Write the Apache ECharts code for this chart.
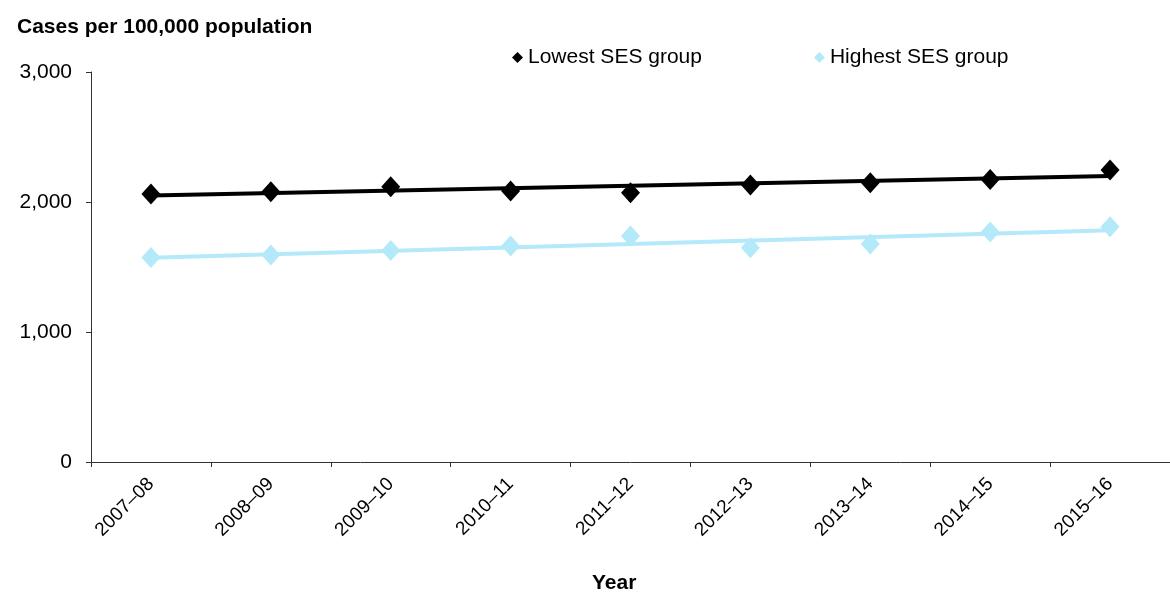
<!DOCTYPE html>
<html>
<head>
<meta charset="utf-8">
<script src="https://cdn.jsdelivr.net/npm/echarts@6/dist/echarts.min.js"></script>
<style>
  html, body { margin: 0; padding: 0; background: #fff; }
  #main { width: 1170px; height: 592px; }
</style>
</head>
<body>
<div id="main"></div>
<script>
// 年份
var years = ['2007–08', '2008–09', '2009–10', '2010–11', '2011–12', '2012–13', '2013–14', '2014–15', '2015–16'];
// Lowest SES group, cases per 100,000
var lowestSes = [2062, 2079, 2118, 2085, 2072, 2131, 2149, 2174, 2246];
// Highest SES group
var highestSes = [1574, 1592, 1626, 1662, 1738, 1649, 1677, 1769, 1810];
// trend lines, value at first and last year
var lowestTrend = [2050, 2200];
var highestTrend = [1572, 1783];

var black = '#000000';
var lightBlue = '#B4E9F9';
var fontFamily = 'Liberation Sans, Arial, sans-serif';

function trendData(ends) {
  return [[years[0], ends[0]], [years[years.length - 1], ends[1]]];
}

var chart = echarts.init(document.getElementById('main'), null, { renderer: 'canvas' });

var option = {
  animation: false,
  textStyle: { fontFamily: fontFamily, color: '#000' },
  grid: { left: 91, top: 72, width: 1080, bottom: 130 },
  legend: {
    data: ['Lowest SES group', 'Highest SES group'],
    left: 507,
    top: 42,
    itemWidth: 11,
    itemHeight: 11,
    itemGap: 112,
    textStyle: { fontSize: 21, color: '#000', fontFamily: fontFamily }
  },
  graphic: [
    {
      type: 'text', left: 17, top: 17,
      style: { text: 'Cases per 100,000 population', font: 'bold 21px ' + fontFamily, fill: '#000' }
    },
    {
      type: 'text', left: 592, top: 573,
      style: { text: 'Year', font: 'bold 21px ' + fontFamily, fill: '#000' }
    }
  ],
  xAxis: {
    type: 'category',
    data: years,
    boundaryGap: true,
    axisLine: { lineStyle: { color: '#333', width: 1 } },
    axisTick: { show: true, length: 5, alignWithLabel: false, lineStyle: { color: '#333' } },
    axisLabel: { rotate: 45, fontSize: 19, color: '#000', margin: 19, interval: 0 },
    splitLine: { show: false }
  },
  yAxis: {
    type: 'value',
    min: 0,
    max: 3000,
    interval: 1000,
    axisLine: { show: true, lineStyle: { color: '#333', width: 1 } },
    axisTick: { show: true, length: 5, lineStyle: { color: '#333' } },
    axisLabel: {
      fontSize: 21, color: '#000', margin: 19,
      formatter: function (v) { return v.toLocaleString('en-US'); }
    },
    splitLine: { show: false }
  },
  series: [
    {
      name: 'Lowest SES group trend',
      type: 'line',
      data: trendData(lowestTrend),
      showSymbol: false,
      symbol: 'none',
      lineStyle: { color: black, width: 4 },
      z: 2
    },
    {
      name: 'Highest SES group trend',
      type: 'line',
      data: trendData(highestTrend),
      showSymbol: false,
      symbol: 'none',
      lineStyle: { color: lightBlue, width: 4 },
      z: 2
    },
    {
      name: 'Lowest SES group',
      type: 'scatter',
      data: lowestSes,
      symbol: 'diamond',
      symbolSize: [19, 21],
      itemStyle: { color: black, opacity: 1 },
      z: 3
    },
    {
      name: 'Highest SES group',
      type: 'scatter',
      data: highestSes,
      symbol: 'diamond',
      symbolSize: [19, 21],
      itemStyle: { color: lightBlue, opacity: 1 },
      z: 3
    }
  ]
};

chart.setOption(option);
</script>
</body>
</html>
